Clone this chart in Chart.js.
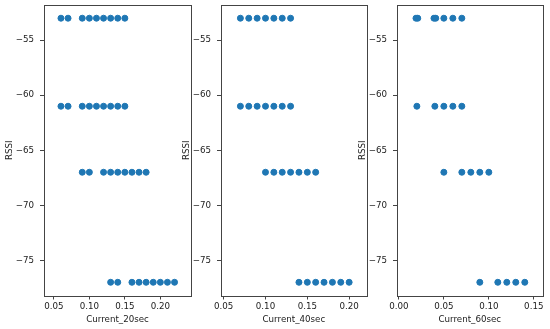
<!DOCTYPE html>
<html>
<head>
<meta charset="utf-8">
<script src="https://cdn.jsdelivr.net/npm/chart.js@4"></script>
<style>
  body { margin:0; background:#fff; }
  #wrap { position:relative; width:550px; height:329px; }
  canvas { position:absolute; top:0; }
</style>
</head>
<body>
<div id="wrap">
  <canvas id="c20" width="195" height="329" style="left:0px"></canvas>
  <canvas id="c40" width="194" height="329" style="left:177px"></canvas>
  <canvas id="c60" width="197" height="329" style="left:353px"></canvas>
</div>
<script>
// RSSI rows (y) shared by all three plots
const rssiRows = [-53, -61, -67, -77];
// current values on each RSSI row
const current20 = [
  [0.06, 0.07, 0.09, 0.10, 0.11, 0.12, 0.13, 0.14, 0.15],
  [0.06, 0.07, 0.09, 0.10, 0.11, 0.12, 0.13, 0.14, 0.15],
  [0.09, 0.10, 0.12, 0.13, 0.14, 0.15, 0.16, 0.17, 0.18],
  [0.13, 0.14, 0.16, 0.17, 0.18, 0.19, 0.20, 0.21, 0.22]
];
const current40 = [
  [0.07, 0.08, 0.09, 0.10, 0.11, 0.12, 0.13],
  [0.07, 0.08, 0.09, 0.10, 0.11, 0.12, 0.13],
  [0.10, 0.11, 0.12, 0.13, 0.14, 0.15, 0.16],
  [0.14, 0.15, 0.16, 0.17, 0.18, 0.19, 0.20]
];
const current60 = [
  [0.019, 0.021, 0.039, 0.041, 0.05, 0.06, 0.07],
  [0.02, 0.04, 0.05, 0.06, 0.07],
  [0.05, 0.07, 0.08, 0.09, 0.10],
  [0.09, 0.11, 0.12, 0.13, 0.14]
];
const yTicks = [-75, -70, -65, -60, -55];
const xTicks20 = [0.05, 0.10, 0.15, 0.20];
const xTicks40 = [0.05, 0.10, 0.15, 0.20];
const xTicks60 = [0.00, 0.05, 0.10, 0.15];

const FONT = { family: 'DejaVu Sans', size: 8.7 };
const TXT = '#222';

// matplotlib style box round the plot area
const frame = {
  id: 'frame',
  afterDraw(chart) {
    const a = chart.chartArea, c = chart.ctx;
    c.save();
    c.strokeStyle = '#444';
    c.lineWidth = 1;
    c.strokeRect(Math.round(a.left) + 0.5, Math.round(a.top) + 0.5,
                 Math.round(a.right - a.left), Math.round(a.bottom - a.top));
    c.restore();
  }
};

function points(rows) {
  const pts = [];
  rows.forEach((xs, i) => xs.forEach(x => pts.push({ x: x, y: rssiRows[i] })));
  return pts;
}

function makeChart(id, rows, xTicks, xmin, xmax, xlabel, padRight) {
  new Chart(document.getElementById(id), {
    type: 'scatter',
    data: {
      datasets: [{
        data: points(rows),
        backgroundColor: '#1f77b4',
        borderColor: '#1f77b4',
        borderWidth: 1,
        pointRadius: 3,
        pointHoverRadius: 3
      }]
    },
    options: {
      responsive: false,
      animation: false,
      layout: { padding: { top: 5, right: padRight, left: 0, bottom: 0 } },
      plugins: { legend: { display: false }, tooltip: { enabled: false } },
      scales: {
        x: {
          type: 'linear',
          min: xmin, max: xmax,
          afterBuildTicks: s => { s.ticks = xTicks.map(v => ({ value: v })); },
          afterFit: s => { s.height = 33.5; s.paddingLeft = 0; s.paddingRight = 0; },
          grid: { drawOnChartArea: false, drawTicks: true, tickLength: 4, color: '#444' },
          border: { display: false },
          ticks: { font: FONT, color: TXT, padding: 2, maxRotation: 0,
                   callback: v => v.toFixed(2) },
          title: { display: true, text: xlabel, font: FONT, color: TXT,
                   padding: { top: 0, bottom: 4 } }
        },
        y: {
          type: 'linear',
          min: -78.2, max: -51.8,
          afterBuildTicks: s => { s.ticks = yTicks.map(v => ({ value: v })); },
          afterFit: s => { s.width = 44; s.paddingTop = 0; s.paddingBottom = 0; },
          grid: { drawOnChartArea: false, drawTicks: true, tickLength: 4, color: '#444' },
          border: { display: false },
          ticks: { font: FONT, color: TXT, padding: 6,
                   callback: v => '\u2212' + Math.abs(v) },
          title: { display: true, text: 'RSSI', font: FONT, color: TXT,
                   padding: { top: 5, bottom: 0 } }
        }
      }
    },
    plugins: [frame]
  });
}

makeChart('c20', current20, xTicks20, 0.0361, 0.2432, 'Current_20sec', 3.5);
makeChart('c40', current40, xTicks40, 0.0468, 0.221, 'Current_40sec', 4.3);
makeChart('c60', current60, xTicks60, -0.0021, 0.1597, 'Current_60sec', 7.5);
</script>
</body>
</html>
